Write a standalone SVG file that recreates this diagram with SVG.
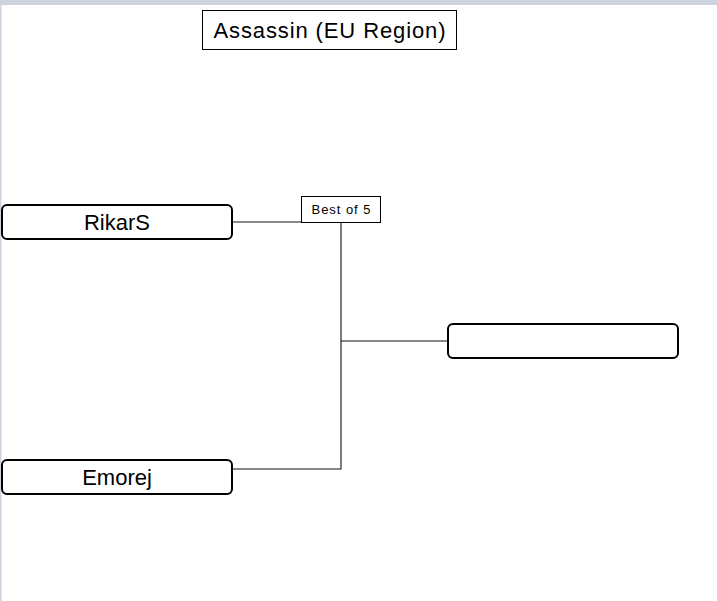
<svg xmlns="http://www.w3.org/2000/svg" width="717" height="601" viewBox="0 0 717 601">
<style>
.p{fill:#fff;stroke:#000;stroke-width:2}
.t{font-family:"Liberation Sans",Arial,sans-serif;fill:#000;text-anchor:middle}
.c{fill:none;stroke:#111;stroke-width:1.1}
</style>
<rect x="0" y="0" width="717" height="601" fill="#fff"/>
<rect x="0" y="0" width="717" height="5" fill="#cdd3df"/>
<rect x="0" y="5" width="1.5" height="596" fill="#cdd3df"/>
<g id="title">
<rect x="202.5" y="10.5" width="254" height="39" fill="#fff" stroke="#000" stroke-width="1"/>
<text class="t" x="329.5" y="38" font-size="22" textLength="232" lengthAdjust="spacing">Assassin (EU Region)</text>
</g>
<g id="connectors">
<path class="c" d="M232 222H341V469H232M341 341H448"/>
</g>
<g id="label">
<rect x="301.5" y="196.5" width="79" height="26" fill="#fff" stroke="#000" stroke-width="1"/>
<text class="t" x="341" y="214" font-size="13" textLength="59" lengthAdjust="spacing">Best of 5</text>
</g>
<g id="rikars">
<rect class="p" x="2" y="205" width="230" height="34" rx="5"/>
<text class="t" x="117" y="230" font-size="22">RikarS</text>
</g>
<g id="emorej">
<rect class="p" x="2" y="460" width="230" height="34" rx="5"/>
<text class="t" x="117" y="485" font-size="22">Emorej</text>
</g>
<g id="winner">
<rect class="p" x="448" y="324" width="230" height="34" rx="5"/>
</g>
</svg>
